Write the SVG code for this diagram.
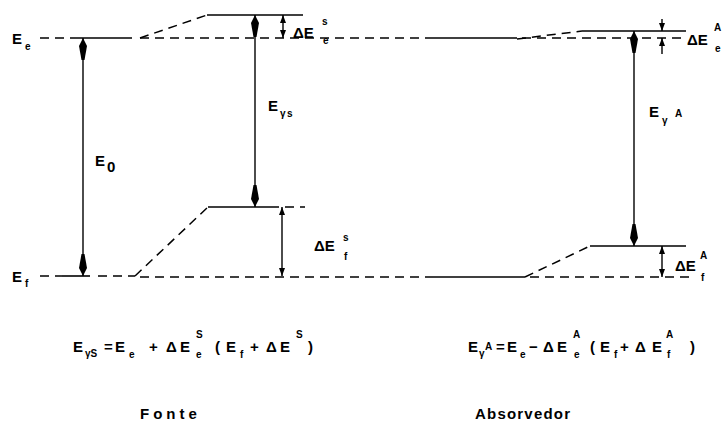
<svg xmlns="http://www.w3.org/2000/svg" width="724" height="425" viewBox="0 0 724 425">
<style>
.ln{stroke:#000;stroke-width:1.6;fill:none}
.ds{stroke:#000;stroke-width:1.5;fill:none;stroke-dasharray:9 6}
.ar{stroke:#000;stroke-width:1.4;fill:none}
.t{font-family:"Liberation Sans",Arial,sans-serif;font-weight:bold;font-size:15px;fill:#000}
.s{font-size:10px}
.cap{font-family:"Liberation Sans",Arial,sans-serif;font-weight:bold;font-size:15px;fill:#000}
</style>
<defs>
<marker id="big" viewBox="0 0 22 9" refX="22" refY="4.5" markerWidth="22" markerHeight="9" markerUnits="userSpaceOnUse" orient="auto-start-reverse"><path d="M0,3 L14,0.5 L22,4.5 L14,8.5 L0,6 z" fill="#000"/></marker>
<marker id="sm" viewBox="0 0 8 6" refX="8" refY="3" markerWidth="8" markerHeight="6" markerUnits="userSpaceOnUse" orient="auto-start-reverse"><path d="M0,0 L8,3 L0,6 z" fill="#000"/></marker>
</defs>

<g id="levels">
<path class="ds" d="M40,38 H75"/>
<path class="ln" d="M75,38 H132"/>
<path class="ds" d="M140,38 L207,15"/>
<path class="ln" d="M207,15 H303"/>
<path class="ds" d="M140,38 H427"/>
<path class="ln" d="M427,38 H517"/>
<path class="ds" d="M522,38 H684"/>
<path class="ds" d="M517,39 L582,31"/>
<path class="ln" d="M582,31 H686"/>
<path class="ds" d="M40,276 H62"/>
<path class="ln" d="M62,276 H90"/>
<path class="ds" d="M98,276 H135"/>
<path class="ds" d="M135,276 L208,207"/>
<path class="ln" d="M208,207 H270"/>
<path class="ds" d="M270,207 H305"/>
<path class="ds" d="M140,277 H433"/>
<path class="ln" d="M433,277 H525"/>
<path class="ds" d="M525,277 L590,246"/>
<path class="ln" d="M590,246 H686"/>
<path class="ds" d="M530,277 H690"/>
</g>

<g id="connectors">
<line id="E0-arrow" class="ar" x1="83" y1="38" x2="83" y2="276" marker-start="url(#big)" marker-end="url(#big)"/>
<line id="Egs-arrow" class="ar" x1="255" y1="15" x2="255" y2="207" marker-start="url(#big)" marker-end="url(#big)"/>
<line id="dEes-arrow" class="ar" x1="283" y1="15" x2="283" y2="38" marker-start="url(#sm)" marker-end="url(#sm)"/>
<line id="dEfs-arrow" class="ar" x1="282" y1="207" x2="282" y2="276" marker-start="url(#sm)" marker-end="url(#sm)"/>
<line id="EgA-arrow" class="ar" x1="634" y1="31" x2="634" y2="246" marker-start="url(#big)" marker-end="url(#big)"/>
<line id="dEeA-arrow1" class="ar" x1="662" y1="19" x2="662" y2="31" marker-end="url(#sm)"/>
<line id="dEeA-arrow2" class="ar" x1="662" y1="54" x2="662" y2="38" marker-end="url(#sm)"/>
<line id="dEfA-arrow" class="ar" x1="662" y1="246" x2="662" y2="277" marker-start="url(#sm)" marker-end="url(#sm)"/>
</g>

<g id="label-Ee"><text class="t" x="12" y="44">E<tspan class="s" x="25" y="50">e</tspan></text></g>
<g id="label-Ef"><text class="t" x="12" y="282">E<tspan class="s" x="25" y="287">f</tspan></text></g>
<g id="label-E0"><text class="t" x="95" y="166">E<tspan x="107" y="172">0</tspan></text></g>
<g id="label-Egs"><text class="t" x="268" y="111">E<tspan class="s" x="280" y="117">γ</tspan><tspan class="s" x="287" y="117">s</tspan></text></g>
<g id="label-dEes"><text class="t" x="293" y="38">ΔE<tspan class="s" x="322" y="25">s</tspan><tspan class="s" x="323" y="44">e</tspan></text></g>
<g id="label-dEfs"><text class="t" x="314" y="251">ΔE<tspan class="s" x="343" y="241">s</tspan><tspan class="s" x="344" y="260">f</tspan></text></g>
<g id="label-EgA"><text class="t" x="649" y="117">E<tspan class="s" x="662" y="124">γ</tspan><tspan class="s" x="675" y="117">A</tspan></text></g>
<g id="label-dEeA"><text class="t" x="687" y="45">ΔE<tspan class="s" x="714" y="31">A</tspan><tspan class="s" x="715" y="52">e</tspan></text></g>
<g id="label-dEfA"><text class="t" x="675" y="271">ΔE<tspan class="s" x="700" y="259">A</tspan><tspan class="s" x="701" y="281">f</tspan></text></g>

<g id="formula-source">
<text class="t" y="352"><tspan x="73">E</tspan><tspan class="s" x="85" y="357">γS</tspan><tspan x="104" y="352">=</tspan><tspan x="115">E</tspan><tspan class="s" x="129" y="358">e</tspan><tspan x="149" y="352">+</tspan><tspan x="166">Δ</tspan><tspan x="180">E</tspan><tspan class="s" x="196" y="338">S</tspan><tspan class="s" x="196" y="358">e</tspan><tspan x="215" y="352">(</tspan><tspan x="226">E</tspan><tspan class="s" x="240" y="358">f</tspan><tspan x="250" y="352">+</tspan><tspan x="266">Δ</tspan><tspan x="280">E</tspan><tspan class="s" x="296" y="338">S</tspan><tspan x="308" y="352">)</tspan></text>
</g>
<g id="formula-absorber">
<text class="t" y="352"><tspan x="468">E</tspan><tspan class="s" x="479" y="357">γ</tspan><tspan class="s" x="485" y="350">A</tspan><tspan x="496" y="352">=</tspan><tspan x="507">E</tspan><tspan class="s" x="520" y="358">e</tspan><tspan x="529" y="352">−</tspan><tspan x="543">Δ</tspan><tspan x="557">E</tspan><tspan class="s" x="573" y="338">A</tspan><tspan class="s" x="574" y="358">e</tspan><tspan x="590" y="352">(</tspan><tspan x="600">E</tspan><tspan class="s" x="614" y="358">f</tspan><tspan x="620" y="352">+</tspan><tspan x="635">Δ</tspan><tspan x="652">E</tspan><tspan class="s" x="666" y="338">A</tspan><tspan class="s" x="667" y="358">f</tspan><tspan x="690" y="352">)</tspan></text>
</g>
<g id="caption-fonte"><text class="cap" x="140" y="419" letter-spacing="4">Fonte</text></g>
<g id="caption-absorvedor"><text class="cap" x="475" y="419" letter-spacing="1.2">Absorvedor</text></g>
</svg>
